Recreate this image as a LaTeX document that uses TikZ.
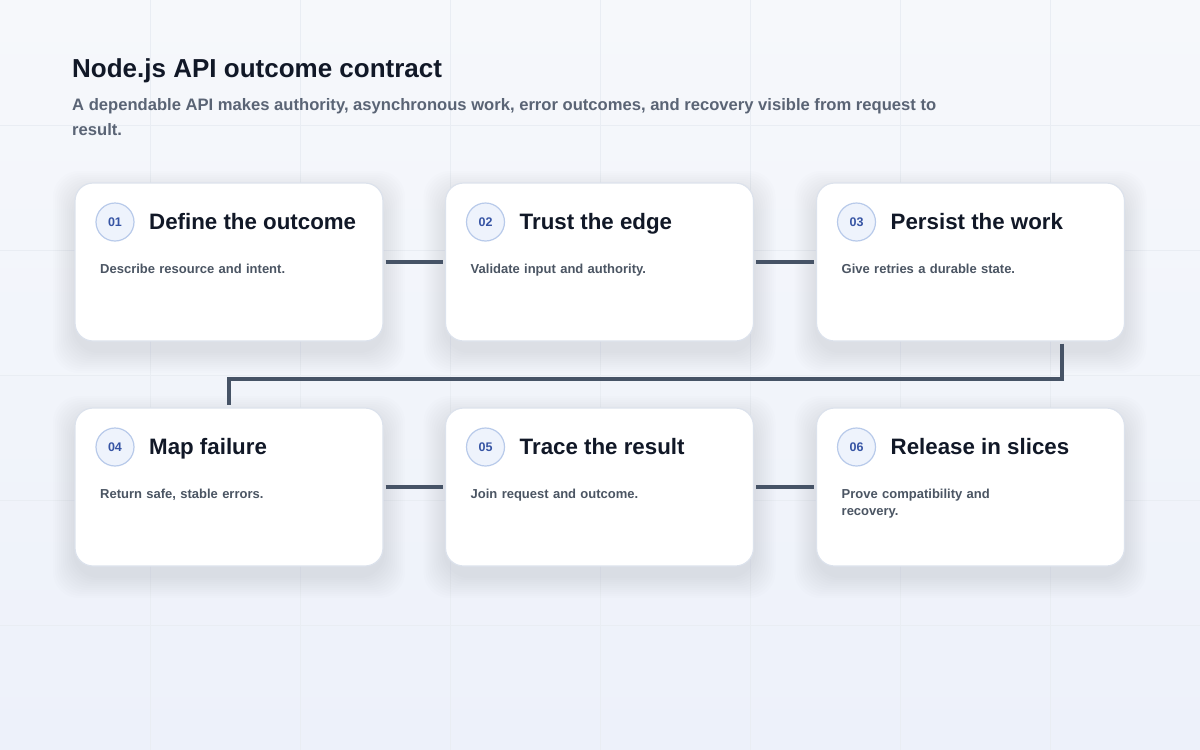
\documentclass[tikz,border=0pt]{standalone}
\usepackage{fontspec}
\setmainfont{Liberation Sans}
\definecolor{ink}{HTML}{111827}
\definecolor{subink}{HTML}{5A6475}
\definecolor{descink}{HTML}{4B5563}
\definecolor{cardline}{HTML}{DCE2EC}
\definecolor{badgefill}{HTML}{EEF3FC}
\definecolor{badgeline}{HTML}{B8CAEA}
\definecolor{badgeink}{HTML}{3654A4}
\definecolor{linkc}{HTML}{465366}
\definecolor{gridc}{HTML}{E9EDF3}
\definecolor{shadec}{HTML}{4A5F90}
\definecolor{bgtop}{HTML}{F6F8FB}
\definecolor{bgbot}{HTML}{EDF1FA}

\tikzset{
  card/.style={draw=cardline, line width=1.2pt, fill=white, rounded corners=18pt,
    minimum width=308pt, minimum height=158pt},
  cardshade/.style={fill=shadec, fill opacity=0.013, draw=none, rounded corners=26pt,
    minimum width=308pt+#1, minimum height=158pt+#1},
  badge/.style={circle, draw=badgeline, line width=1.2pt, fill=badgefill, minimum size=38pt,
    inner sep=0pt, text=badgeink, font=\fontsize{12.5}{14}\selectfont\bfseries},
  cardtitle/.style={anchor=base west, inner sep=0pt, text=ink, font=\fontsize{22.3}{26}\selectfont\bfseries},
  carddesc/.style={anchor=north west, inner sep=0pt, text width=190pt, align=left,
    text=descink, font=\fontsize{13}{17}\selectfont\bfseries},
  link/.style={draw=linkc, line width=4pt, shorten <=2pt, shorten >=2pt},
  gridline/.style={draw=gridc, line width=1pt}
}

\begin{document}
\begin{tikzpicture}[x=1pt,y=-1pt]
% background and grid
\shade[top color=bgtop, bottom color=bgbot] (0,0) rectangle (1200,750);
\useasboundingbox (0,0) rectangle (1200,750);
\foreach \gx in {150,300,...,1050} \draw[gridline] (\gx,0) -- (\gx,750);
\foreach \gy in {125,250,...,625} \draw[gridline] (0,\gy) -- (1200,\gy);

% heading
\node[anchor=base west, inner sep=0pt, text=ink, font=\fontsize{26}{30}\selectfont\bfseries] (head) at (72,77) {Node.js API outcome contract};
\node[anchor=north west, inner sep=0pt, text=subink, align=left, font=\fontsize{16.6}{25}\selectfont\bfseries] (sub) at (72,98)
  {A dependable API makes authority, asynchronous work, error outcomes, and recovery visible from request to\\result.};

% cards
\foreach \k/\cx/\cy/\ttl/\dsc in {
  1/229/262/{Define the outcome}/{Describe resource and intent.},
  2/599.5/262/{Trust the edge}/{Validate input and authority.},
  3/970.5/262/{Persist the work}/{Give retries a durable state.},
  4/229/487/{Map failure}/{Return safe, stable errors.},
  5/599.5/487/{Trace the result}/{Join request and outcome.},
  6/970.5/487/{Release in slices}/{Prove compatibility and\\recovery.}}{
  \foreach \s in {4,8,...,44} \node[cardshade=\s] at (\cx,\cy+10) {};
  \node[card] (c\k) at (\cx,\cy) {};
  \node[badge] (b\k) at (\cx-114,\cy-40) {0\k};
  \node[cardtitle] (t\k) at (\cx-80,\cy-33) {\ttl};
  \node[carddesc] (d\k) at (\cx-129,\cy+2) {\dsc};
}

% connectors
\draw[link] (c1) -- (c2);
\draw[link] (c2) -- (c3);
\coordinate (turn) at (1062,379);
\draw[link] (c3.south -| turn) -- (turn) -| (c4.north);
\draw[link] (c4) -- (c5);
\draw[link] (c5) -- (c6);
\end{tikzpicture}
\end{document}
